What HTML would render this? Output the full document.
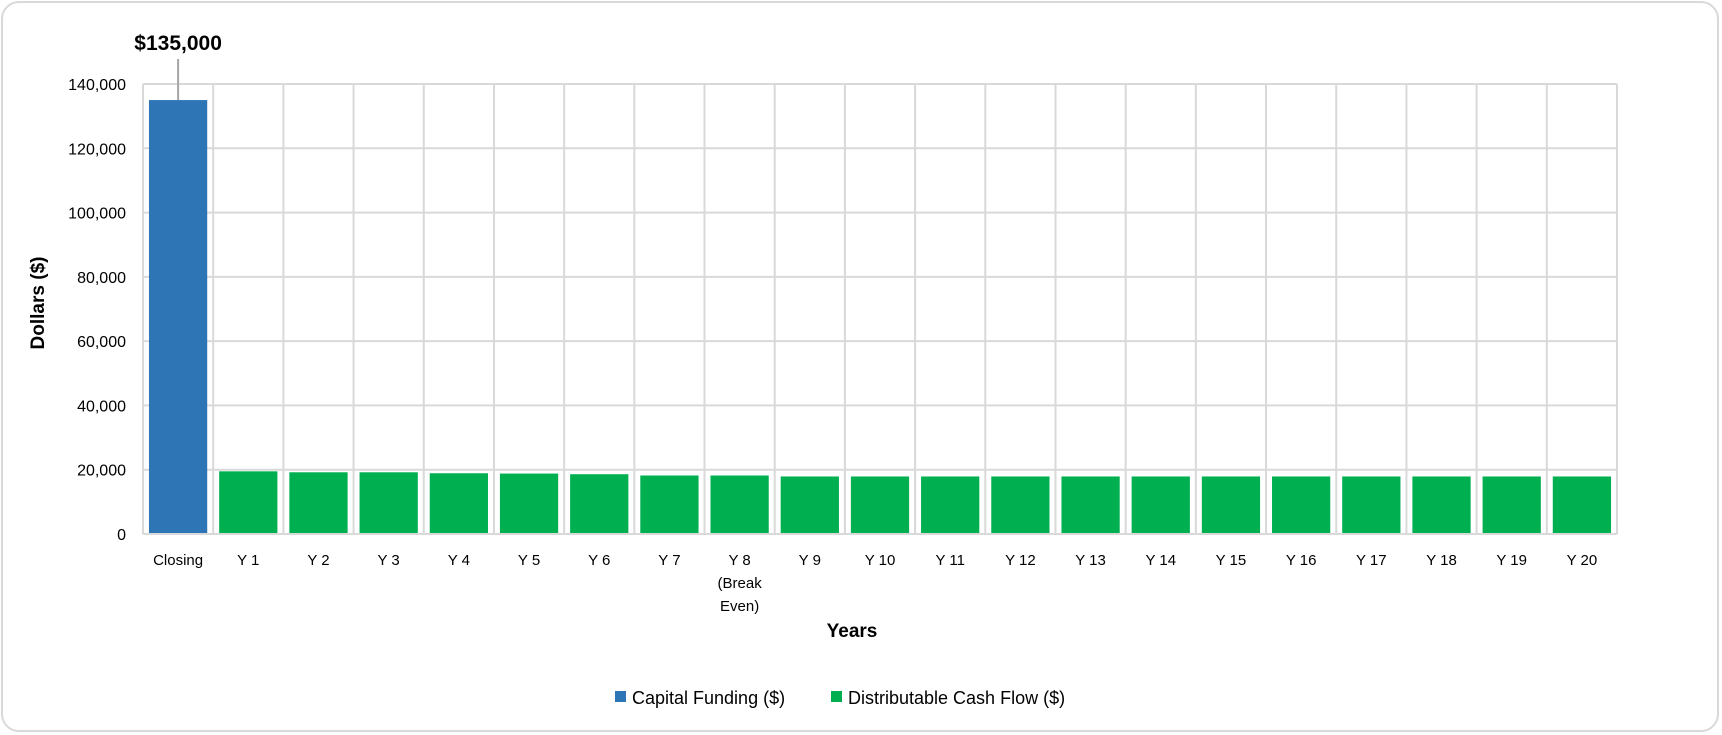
<!DOCTYPE html>
<html><head><meta charset="utf-8"><style>
body{margin:0;background:#fff;font-family:"Liberation Sans",sans-serif;}
#frame{position:absolute;left:1px;top:1px;width:1718px;height:731px;border:2px solid #d9d9d9;border-radius:18px;box-sizing:border-box;}
svg{position:absolute;left:0;top:0;}
text{font-family:"Liberation Sans",sans-serif;fill:#000;}
</style></head><body>
<div id="frame"></div>
<svg id="chart" width="1722" height="735"></svg>
<script>
const categories=["Closing","Y 1","Y 2","Y 3","Y 4","Y 5","Y 6","Y 7","Y 8|(Break|Even)","Y 9","Y 10","Y 11","Y 12","Y 13","Y 14","Y 15","Y 16","Y 17","Y 18","Y 19","Y 20"];
const capitalFunding=[135000,0,0,0,0,0,0,0,0,0,0,0,0,0,0,0,0,0,0,0,0];
const cashFlow=[0,19500,19200,19200,18900,18800,18600,18200,18200,17900,17900,17900,17900,17900,17900,17900,17900,17900,17900,17900,17900];
const yTicks=[0,20000,40000,60000,80000,100000,120000,140000];
const annotationLabel="$135,000";

const NS="http://www.w3.org/2000/svg";
const svg=document.getElementById('chart');
const L=143,R=1617,T=84,B=534,YMAX=140000;
const band=(R-L)/categories.length;
const y=v=>B-(v/YMAX)*(B-T);
const x=i=>L+i*band;
function mk(tag,attrs,parent){const e=document.createElementNS(NS,tag);for(const k in attrs)e.setAttribute(k,attrs[k]);(parent||svg).appendChild(e);return e;}

const grid=mk('g',{});


yTicks.forEach(t=>{
  const ln=mk('line',{x1:L,x2:R,y1:y(t),y2:y(t),stroke:'#d9d9d9','stroke-width':2},grid);
  
  
  const tx=mk('text',{x:126,y:y(t)+6,'text-anchor':'end','font-size':16});
  tx.textContent=t.toLocaleString('en-US');
  
  
});
for(let i=0;i<=categories.length;i++){
  const ln=mk('line',{x1:x(i),x2:x(i),y1:T,y2:B,stroke:'#d9d9d9','stroke-width':2},grid);
  
  
}
const bw=band*0.83;
categories.forEach((c,i)=>{
  const cx=x(i)+band/2;
  if(capitalFunding[i]>0){
    const r=mk('rect',{x:cx-bw/2,y:y(capitalFunding[i]),width:bw,height:B-y(capitalFunding[i]),fill:'#2e75b6'});
    
    
  }
  if(cashFlow[i]>0){
    const r=mk('rect',{x:cx-bw/2,y:y(cashFlow[i]),width:bw,height:B-y(cashFlow[i]),fill:'#00b050'});
    
    
  }
  c.split('|').forEach((line,j)=>{
    const t=mk('text',{x:cx,y:565+j*23,'text-anchor':'middle','font-size':15});
    t.textContent=line;
    
    
  });
});
const axis=mk('line',{x1:L,x2:R,y1:B,y2:B,stroke:'#d9d9d9','stroke-width':2});


// annotation
const ai=capitalFunding.indexOf(Math.max(...capitalFunding));
const acx=x(ai)+band/2;
const lead=mk('line',{x1:acx,x2:acx,y1:59,y2:y(capitalFunding[ai]),stroke:'#a6a6a6','stroke-width':2});


const at=mk('text',{x:acx,y:50,'text-anchor':'middle','font-size':21,'font-weight':'bold'});
at.textContent=annotationLabel;


</script>
<svg width="1722" height="735" style="pointer-events:none">
<text x="44" y="303" transform="rotate(-90 44 303)" text-anchor="middle" font-size="19" font-weight="bold">Dollars ($)</text>
<text x="852" y="637" text-anchor="middle" font-size="19" font-weight="bold">Years</text>
<g>
<rect x="615" y="691" width="11" height="11" fill="#2e75b6"/>
<text x="632" y="704" font-size="18">Capital Funding ($)</text>
<rect x="831" y="691" width="11" height="11" fill="#00b050"/>
<text x="848" y="704" font-size="18">Distributable Cash Flow ($)</text>
</g>
</svg>
</body></html>
